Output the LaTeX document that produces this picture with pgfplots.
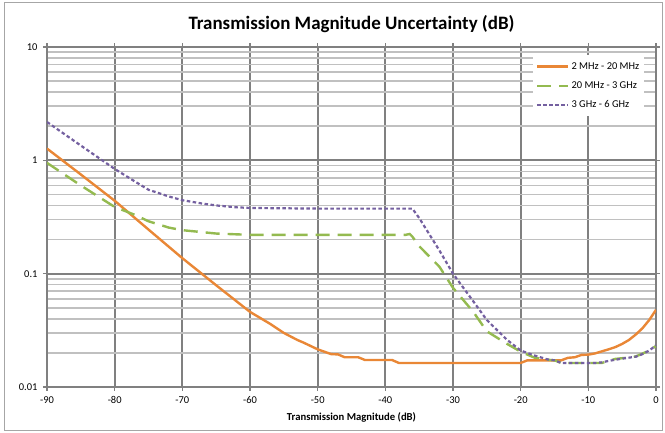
\documentclass[border=0pt]{standalone}
\usepackage{pgfplots}
\pgfplotsset{compat=1.18}
\usepackage{fontspec}
\setmainfont{Carlito}
\definecolor{cOr}{HTML}{E98736}
\definecolor{cGr}{HTML}{94BA50}
\definecolor{cPu}{HTML}{7460A0}
\definecolor{gMaj}{HTML}{808080}
\definecolor{gMin}{HTML}{C0C0C0}
\begin{document}
\begin{tikzpicture}
\useasboundingbox (-47bp,-46bp) rectangle (618bp,387bp);
\draw[gMaj!70, line width=1bp] (-42bp,-43bp) rectangle (615bp,384bp);
\begin{axis}[
  at={(0,0)}, anchor=south west,
  scale only axis, width=609bp, height=340bp,
  xmin=-90, xmax=0, ymin=0.01, ymax=10,
  ymode=log,
  xtick={-90,-80,...,0},
  ytick={0.01,0.1,1,10},
  yticklabels={0.01,0.1,1,10},
  xmajorgrids, ymajorgrids, yminorgrids,
  major grid style={gMaj, line width=1.8bp},
  minor grid style={gMin, line width=1.6bp},
  axis line style={gMaj, line width=1.8bp},
  tick align=outside, major tick length=4bp, minor tick length=0pt,
  tick style={gMaj, line width=1.2bp},
  ticklabel style={font=\fontsize{10.5}{12}\selectfont},
  /pgf/number format/assume math mode=true,
  xticklabel style={yshift=-2bp},
  yticklabel style={xshift=-2bp},
  xlabel={\textbf{Transmission Magnitude (dB)}},
  xlabel style={font=\fontsize{10.7}{12}\selectfont, yshift=-2bp},
  legend style={at={(rel axis cs:0.798,0.976)}, anchor=north west, fill=white, draw=none,
    font=\fontsize{10.5}{12}\selectfont, row sep=7bp, inner xsep=3bp, inner ysep=5bp},
  legend cell align=left,
  legend image code/.code={\draw[#1] (0bp,0bp) -- (31bp,0bp);},
]
\addplot[cOr, line width=2.4bp] coordinates {
(-90,1.27) (-85,0.75) (-80,0.44) (-75,0.245) (-70,0.137) (-65,0.079) (-60,0.046)
(-57,0.036) (-55,0.030) (-53,0.026) (-52,0.0245) (-50,0.0215) (-48,0.0195) (-47,0.0194)
(-46,0.0183) (-44,0.0183) (-43,0.0173) (-39,0.0173) (-38,0.0163) (-20,0.0163)
(-19,0.0172) (-14,0.0172) (-13,0.0181) (-12,0.0183) (-11,0.0192) (-10,0.0193)
(-9,0.0198) (-7,0.0215) (-6,0.0225) (-5,0.024) (-4,0.026) (-3,0.029) (-2,0.033)
(-1,0.039) (0,0.048)};
\addlegendentry{2 MHz - 20 MHz}
\addplot[cGr, line width=2.4bp, dash pattern=on 14bp off 8bp] coordinates {
(-90,0.95) (-85,0.6) (-80,0.388) (-77,0.33) (-75,0.29) (-72,0.255) (-70,0.242)
(-65,0.226) (-60,0.22) (-37,0.22) (-36.4,0.224) (-36,0.212) (-35,0.175) (-32,0.115)
(-30,0.075) (-27,0.046) (-25,0.031) (-22,0.024) (-20,0.0205) (-18,0.0182)
(-16,0.0174) (-15,0.0172) (-14,0.0163) (-8,0.0163) (-7,0.017) (-6,0.0177)
(-4,0.0182) (-3,0.0186) (-2,0.0197) (-1,0.021) (0,0.023)};
\addlegendentry{20 MHz - 3 GHz}
\addplot[cPu, line width=2.2bp, dash pattern=on 3.5bp off 2.5bp] coordinates {
(-90,2.18) (-85,1.35) (-80,0.84) (-77,0.65) (-75,0.55) (-72,0.48) (-70,0.445)
(-67,0.415) (-65,0.40) (-62,0.385) (-60,0.38) (-50,0.375) (-36,0.375) (-35,0.31)
(-32,0.16) (-30,0.1) (-27,0.057) (-25,0.039) (-22,0.026) (-20,0.021) (-18,0.019)
(-16,0.0175) (-15,0.0172) (-14,0.0163) (-9,0.0163) (-8,0.0165) (-7,0.017)
(-5,0.0178) (-3,0.0185) (-2,0.0195) (-1,0.021) (0,0.0233)};
\addlegendentry{3 GHz - 6 GHz}
\end{axis}
\node[font=\fontsize{19}{22}\selectfont\bfseries] at (304.5bp,363bp) {Transmission Magnitude Uncertainty (dB)};
\end{tikzpicture}
\end{document}
